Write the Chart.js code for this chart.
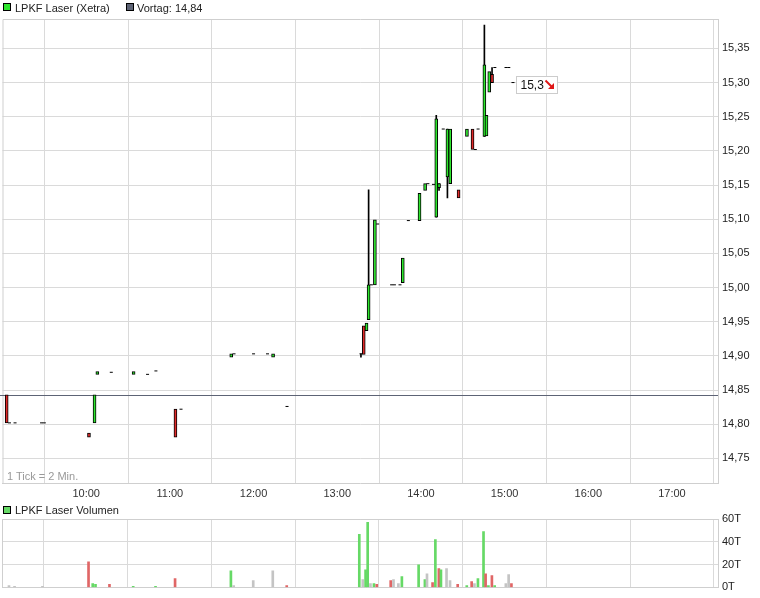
<!DOCTYPE html>
<html>
<head>
<meta charset="utf-8">
<script src="https://cdn.jsdelivr.net/npm/chart.js@4.4.1/dist/chart.umd.min.js"></script>
<style>
  html, body { margin:0; padding:0; background:#fff; }
  body { width:760px; height:598px; position:relative; overflow:hidden;
         font-family:"Liberation Sans", Arial, sans-serif; font-size:11px; color:#222; }
  canvas { position:absolute; left:0; }
  #main { top:0; }
  #vol { top:505px; }
  .sq { position:absolute; width:6px; height:6px; border:1px solid #000; }
  .txt { position:absolute; white-space:nowrap; font-size:11px; line-height:13px; color:#222; }
</style>
</head>
<body>
<canvas id="main" width="760" height="505"></canvas>
<canvas id="vol" width="760" height="93"></canvas>
<div class="sq" style="left:3px;top:3px;background:#2ee62e"></div>
<div class="txt" id="legMain" style="left:15px;top:2px"></div>
<div class="sq" style="left:126px;top:3px;background:#5d6375"></div>
<div class="txt" id="legPrev" style="left:137px;top:2px"></div>
<div class="txt" id="tickNote" style="left:7px;top:470px;color:#999"></div>
<div class="sq" style="left:3px;top:506px;background:#66d966"></div>
<div class="txt" id="legVol" style="left:15px;top:504px"></div>
<script>
// ---------- data ----------
const instrumentName = 'LPKF Laser (Xetra)';
const volumeName = 'LPKF Laser Volumen';
const tickNoteText = '1 Tick = 2 Min.';
const prevClose = 14.843;

// minutes after 09:00
const xTickMinutes = [60, 120, 180, 240, 300, 360, 420, 480];
const yTickValues = [14.75, 14.80, 14.85, 14.90, 14.95, 15.00, 15.05, 15.10, 15.15, 15.20, 15.25, 15.30, 15.35];
const volTickValues = [0, 20, 40, 60];

const candleTimes = [3, 5, 9, 28, 30, 62, 66, 68, 78, 94, 104, 110, 124, 128, 164, 166, 180, 190, 194, 204,
  257, 259, 261, 262.5, 264.5, 267, 269, 279, 281, 285, 287, 291, 299, 303, 305, 309, 311, 313, 316, 319,
  321, 327, 333, 337, 339, 341, 345.5, 347, 349, 351, 353, 361, 363, 366];
const candleOpen = [14.843, 14.802, 14.802, 14.802, 14.802, 14.787, 14.802, 14.873, 14.876, 14.873, 14.873, 14.878, 14.822, 14.822, 14.898, 14.903, 14.903, 14.903, 14.898, 14.826,
  14.903, 14.944, 14.937, 14.953, 15.004, 15.004, 15.093, 15.004, 15.004, 15.004, 15.007, 15.098, 15.098, 15.142, 15.152, 15.151, 15.103, 15.146, 15.232, 15.162,
  15.152, 15.143, 15.221, 15.232, 15.202, 15.232, 15.221, 15.222, 15.286, 15.312, 15.322, 15.322, 15.322, 15.300];
const candleHigh = [14.843, 14.802, 14.802, 14.802, 14.802, 14.787, 14.843, 14.877, 14.876, 14.877, 14.873, 14.878, 14.822, 14.822, 14.903, 14.903, 14.903, 14.903, 14.903, 14.826,
  14.903, 14.944, 14.948, 15.143, 15.004, 15.099, 15.093, 15.004, 15.004, 15.004, 15.043, 15.098, 15.138, 15.152, 15.152, 15.151, 15.252, 15.152, 15.232, 15.232,
  15.232, 15.143, 15.232, 15.232, 15.202, 15.232, 15.384, 15.252, 15.316, 15.322, 15.322, 15.322, 15.322, 15.300];
const candleLow = [14.802, 14.802, 14.802, 14.802, 14.802, 14.781, 14.802, 14.873, 14.876, 14.873, 14.873, 14.878, 14.781, 14.822, 14.898, 14.903, 14.903, 14.903, 14.898, 14.826,
  14.898, 14.902, 14.937, 14.953, 15.004, 15.004, 15.093, 15.004, 15.004, 15.004, 15.007, 15.098, 15.098, 15.142, 15.152, 15.151, 15.103, 15.142, 15.232, 15.131,
  15.152, 15.131, 15.221, 15.202, 15.202, 15.232, 15.221, 15.222, 15.286, 15.300, 15.322, 15.322, 15.322, 15.300];
const candleClose = [14.802, 14.802, 14.802, 14.802, 14.802, 14.781, 14.843, 14.877, 14.876, 14.877, 14.873, 14.878, 14.781, 14.822, 14.903, 14.903, 14.903, 14.903, 14.903, 14.826,
  14.903, 14.902, 14.948, 15.004, 15.004, 15.099, 15.093, 15.004, 15.004, 15.004, 15.043, 15.098, 15.138, 15.152, 15.152, 15.151, 15.247, 15.152, 15.232, 15.232,
  15.232, 15.131, 15.232, 15.202, 15.202, 15.232, 15.326, 15.252, 15.316, 15.300, 15.322, 15.322, 15.322, 15.300];

const volTimes = [5, 9, 29, 62, 65, 67, 77, 94, 110, 124, 164, 166, 180, 194, 204,
  256, 258.5, 260.5, 262, 264, 266.5, 268.5, 278.5, 280.5, 284, 286.5, 298.5, 303, 304.5, 308.5,
  310.5, 313, 314.5, 318.5, 321, 326.5, 333, 336.5, 338.5, 341, 345, 346.5, 348.5, 351, 353, 361, 363, 365];
const volValues = [1.7, 1, 1, 22.4, 3.4, 2.6, 2.6, 1, 1, 7.7, 14.6, 1.7, 6, 14.6, 1.7,
  46.5, 6.9, 15.5, 57, 3.4, 3.4, 2.6, 6, 6.9, 3.4, 9.5, 19.8, 6.9, 12, 4.3,
  42, 16.4, 15.5, 16.4, 6, 2.6, 1.7, 5.2, 3.4, 7.7, 49, 12, 1.7, 10.3, 1.7, 3.4, 11.2, 3.4];
const volDir = ['f', 'f', 'f', 'd', 'u', 'u', 'd', 'u', 'u', 'd', 'u', 'f', 'f', 'f', 'd',
  'u', 'f', 'u', 'u', 'f', 'u', 'd', 'd', 'f', 'f', 'u', 'u', 'u', 'f', 'd',
  'u', 'd', 'u', 'f', 'f', 'd', 'u', 'd', 'f', 'u', 'u', 'd', 'u', 'd', 'u', 'f', 'f', 'd'];

// ---------- styles ----------
const GREEN = '#2ee62e', RED = '#e02a2a';
const VOL_COL = { u: '#66d966', d: '#e06666', f: '#c4c4c4' };
const GRID = '#dadada';
const FONT = { family: '"Liberation Sans", Arial, sans-serif', size: 11 };
const fmt = (v, d) => v.toFixed(d).replace('.', ',');

document.getElementById('legMain').textContent = instrumentName;
document.getElementById('legPrev').textContent = 'Vortag: ' + fmt(prevClose, 2);
document.getElementById('legVol').textContent = volumeName;
document.getElementById('tickNote').textContent = tickNoteText;

Chart.defaults.font.family = FONT.family;
Chart.defaults.font.size = FONT.size;
Chart.defaults.color = '#222';

// ---------- build datasets ----------
const bodyData = [], bodyColors = [], wickData = [], dojiData = [];
candleTimes.forEach((t, i) => {
  const o = candleOpen[i], c = candleClose[i], h = candleHigh[i], l = candleLow[i];
  if (o !== c) { bodyData.push({ x: t, y: [o, c] }); bodyColors.push(c > o ? GREEN : RED); }
  else dojiData.push({ x: t, y: c });
  if (h > Math.max(o, c) || l < Math.min(o, c)) wickData.push({ x: t, y: [l, h] });
});

const setTicks = vals => scale => { scale.ticks = vals.map(v => ({ value: v })); };

const framePlugin = {
  id: 'frame',
  beforeDatasetsDraw(chart) {
    const { ctx, chartArea: a } = chart;
    ctx.save();
    ctx.strokeStyle = '#cfcfcf';
    ctx.lineWidth = 1;
    ctx.beginPath();
    ctx.moveTo(a.left + 0.5, a.bottom);
    ctx.lineTo(a.left + 0.5, a.top + 0.5);
    ctx.lineTo(a.right, a.top + 0.5);
    ctx.stroke();
    ctx.restore();
  }
};

const prevLinePlugin = {
  id: 'prevLine',
  beforeDatasetsDraw(chart) {
    const { ctx, chartArea: a } = chart;
    const y = Math.round(chart.scales.y.getPixelForValue(prevClose)) + 0.5;
    ctx.save();
    ctx.strokeStyle = '#5d6375';
    ctx.lineWidth = 1;
    ctx.beginPath();
    ctx.moveTo(0, y);
    ctx.lineTo(a.right, y);
    ctx.stroke();
    ctx.restore();
  }
};

const lastLabelPlugin = {
  id: 'lastLabel',
  afterDatasetsDraw(chart) {
    const { ctx } = chart;
    const n = candleTimes.length - 1;
    const last = candleClose[n];
    const x = chart.scales.x.getPixelForValue(candleTimes[n]) + 3;
    const y = chart.scales.y.getPixelForValue(last);
    const bx = Math.round(x) + 0.5, by = Math.round(y - 7) + 0.5, w = 41, h = 17;
    ctx.save();
    ctx.fillStyle = '#fff';
    ctx.fillRect(bx, by, w, h);
    ctx.strokeStyle = '#cccccc';
    ctx.lineWidth = 1;
    ctx.strokeRect(bx, by, w, h);
    ctx.fillStyle = '#111';
    ctx.font = '12px "Liberation Sans", Arial, sans-serif';
    ctx.textBaseline = 'middle';
    ctx.textAlign = 'left';
    const txt = fmt(last, 2).replace(/0+$/, '').replace(/,$/, '');
    ctx.fillText(txt, bx + 4, by + h / 2 + 0.5);
    // red down-right arrow
    const ax = bx + 29, ay = by + 4;
    ctx.strokeStyle = '#e01818';
    ctx.fillStyle = '#e01818';
    ctx.lineWidth = 2;
    ctx.beginPath();
    ctx.moveTo(ax, ay);
    ctx.lineTo(ax + 6, ay + 6);
    ctx.stroke();
    ctx.beginPath();
    ctx.moveTo(ax + 8.5, ay + 8.5);
    ctx.lineTo(ax + 8.5, ay + 2.5);
    ctx.lineTo(ax + 2.5, ay + 8.5);
    ctx.closePath();
    ctx.fill();
    ctx.restore();
  }
};

// ---------- main chart ----------
new Chart(document.getElementById('main').getContext('2d'), {
  type: 'bar',
  data: {
    datasets: [
      { type: 'bar', data: wickData, backgroundColor: '#000', borderWidth: 0, barThickness: 1, stack: 'c', order: 3 },
      { type: 'bar', data: bodyData, backgroundColor: bodyColors, borderColor: '#000', borderWidth: 1,
        borderSkipped: false, barThickness: 3, stack: 'c', order: 2 },
      { type: 'scatter', data: dojiData, showLine: false, pointStyle: 'line', pointRadius: 1.5,
        pointHoverRadius: 1.5, pointBorderColor: '#000', pointBorderWidth: 1, borderColor: '#000', order: 1 }
    ]
  },
  options: {
    responsive: false, animation: false, events: [],
    layout: { padding: { left: 2, top: 19, right: 0, bottom: 0 } },
    plugins: { legend: { display: false }, tooltip: { enabled: false } },
    scales: {
      x: {
        type: 'linear', min: 0, max: 513, offset: false,
        afterBuildTicks: setTicks(xTickMinutes),
        afterFit: s => { s.height = 22; },
        ticks: { autoSkip: false, maxRotation: 0, padding: 4, color: '#333',
          callback: v => String(9 + Math.floor(v / 60)).padStart(2, '0') + ':' + String(v % 60).padStart(2, '0') },
        grid: { color: GRID, drawTicks: false },
        border: { display: true, color: '#cfcfcf' }
      },
      y: {
        position: 'right', min: 14.714, max: 15.393, stacked: false,
        afterBuildTicks: setTicks(yTickValues),
        afterFit: s => { s.width = 42; },
        ticks: { padding: 4, color: '#222', callback: v => fmt(v, 2) },
        grid: { color: GRID, drawTicks: false },
        border: { display: true, color: '#cfcfcf' }
      }
    }
  },
  plugins: [framePlugin, prevLinePlugin, lastLabelPlugin]
});

// ---------- volume chart ----------
new Chart(document.getElementById('vol').getContext('2d'), {
  type: 'bar',
  data: {
    datasets: [{
      data: volTimes.map((t, i) => ({ x: t, y: volValues[i] })),
      backgroundColor: volDir.map(d => VOL_COL[d]),
      borderWidth: 0, barThickness: 2
    }]
  },
  options: {
    responsive: false, animation: false, events: [],
    layout: { padding: { left: 2, top: 14, right: 0, bottom: 9 } },
    plugins: { legend: { display: false }, tooltip: { enabled: false } },
    scales: {
      x: {
        type: 'linear', min: 0, max: 513, offset: false,
        afterBuildTicks: setTicks(xTickMinutes),
        afterFit: s => { s.height = 0; },
        ticks: { display: false },
        grid: { color: GRID, drawTicks: false },
        border: { display: true, color: '#cfcfcf' }
      },
      y: {
        position: 'right', min: 0, max: 60,
        afterBuildTicks: setTicks(volTickValues),
        afterFit: s => { s.width = 42; },
        ticks: { padding: 4, color: '#222', callback: v => v + 'T' },
        grid: { color: GRID, drawTicks: false },
        border: { display: true, color: '#cfcfcf' }
      }
    }
  },
  plugins: [framePlugin]
});
</script>
</body>
</html>
